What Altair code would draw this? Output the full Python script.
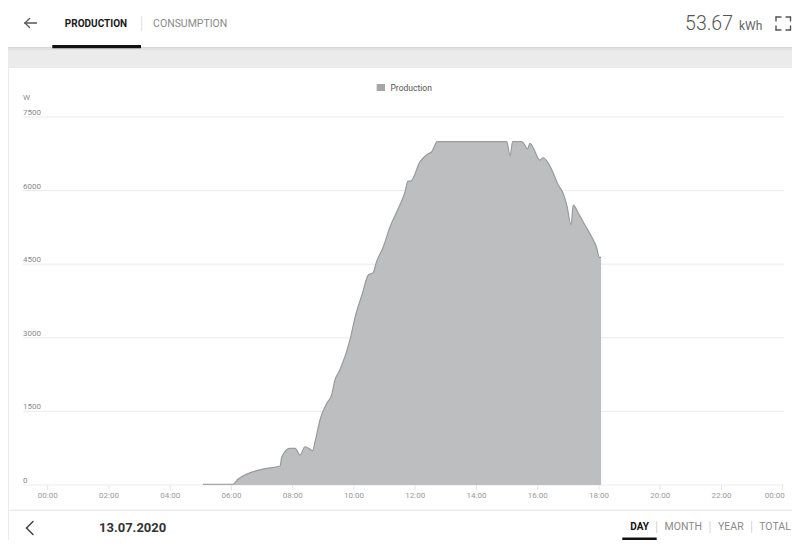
import altair as alt
import pandas as pd

# ---------------- data ----------------
hours = [5.07, 6.05, 6.21, 6.99, 7.59, 7.64, 7.91, 8.08, 8.24, 8.40, 8.51, 8.65, 8.73, 8.89,
         9.11, 9.27, 9.38, 9.54, 9.87, 10.03, 10.26, 10.47, 10.63, 10.72, 10.96, 11.18, 11.45,
         11.67, 11.76, 11.85, 12.16, 12.40, 12.54, 12.72, 13.50, 14.30, 14.99, 15.10, 15.18,
         15.48, 15.58, 15.66, 15.75, 15.86, 16.07, 16.18, 16.35, 16.51, 16.67, 16.78, 16.95,
         17.09, 17.16, 17.33, 17.54, 17.76, 17.93, 18.01, 18.07]
watts = [15, 15, 116, 320, 387, 565, 748, 748, 611, 780, 754, 699, 882, 1325,
         1665, 1834, 2140, 2344, 2955, 3403, 3872, 4279, 4327, 4518, 4856, 5264, 5639,
         5977, 6195, 6195, 6589, 6739, 6792, 7000, 7000, 7000, 7000, 6705, 7000,
         7000, 6929, 6847, 6963, 6862, 6623, 6670, 6556, 6352, 6114, 6012, 5706,
         5298, 5706, 5537, 5298, 5060, 4824, 4640, 4640]

y_ticks = [0, 1500, 3000, 4500, 6000, 7500]
y_tick_labels = ["0", "1500", "3000", "4500", "6000", "7500"]
x_ticks = [0, 2, 4, 6, 8, 10, 12, 14, 16, 18, 20, 22, 24]
x_tick_labels = ["00:00", "02:00", "04:00", "06:00", "08:00", "10:00", "12:00",
                 "14:00", "16:00", "18:00", "20:00", "22:00", "00:00"]
tabs = ["PRODUCTION", "CONSUMPTION"]
periods = ["DAY", "MONTH", "YEAR", "TOTAL"]
total_value = "53.67"
total_unit = "kWh"
date_label = "13.07.2020"
series_name = "Production"
y_unit = "W"

# ---------------- layout helpers ----------------
W, H = 784, 532
OX, OY = 8, 8  # page margin


def px(v):
    return v - OX


def py(v):
    return v - OY


FONT = "Roboto"
xs = alt.Scale(domain=[0, 24], range=[px(47.7), px(782.7)], nice=False, zero=False)
ys = alt.Scale(domain=[0, 7500], range=[py(485), py(117)], nice=False)

one = pd.DataFrame({"d": [0]})


def rect(x1, y1, x2, y2, color):
    return alt.Chart(one).mark_rect(color=color).encode(
        x=alt.value(px(x1)), x2=alt.value(px(x2)),
        y=alt.value(py(y1)), y2=alt.value(py(y2)))


def seg(x1, y1, x2, y2, color, w=1.0):
    return alt.Chart(one).mark_rule(color=color, strokeWidth=w, strokeCap="round").encode(
        x=alt.value(px(x1)), x2=alt.value(px(x2)),
        y=alt.value(py(y1)), y2=alt.value(py(y2)))


def label(text, x, y, size, color, weight="normal", align="left", baseline="middle"):
    return alt.Chart(one).mark_text(
        text=text, font=FONT, fontSize=size, color=color, fontWeight=weight,
        align=align, baseline=baseline).encode(x=alt.value(px(x)), y=alt.value(py(y)))


layers = []

# backgrounds
layers.append(rect(0, 0, 800, 47, "#ffffff"))
layers.append(rect(0, 47, 800, 48, "#d6d7d6"))
layers.append(rect(0, 48, 800, 50, "#e0e1e0"))
layers.append(rect(9, 68, 800, 509.5, "#ffffff"))
layers.append(rect(9, 511, 800, 545, "#ffffff"))

# gridlines
gdf = pd.DataFrame({"v": y_ticks, "lab": y_tick_labels})
layers.append(alt.Chart(gdf).mark_rule(color="#ebebeb", strokeWidth=1).encode(
    y=alt.Y("v:Q", scale=ys, axis=None), x=alt.value(px(23)), x2=alt.value(px(784))))

# series
df = pd.DataFrame({"h": hours, "w": watts})
layers.append(alt.Chart(df).mark_area(interpolate="monotone", color="#bdbebf").encode(
    x=alt.X("h:Q", scale=xs, axis=None),
    y=alt.Y("w:Q", scale=ys, axis=None, stack=None),
    y2=alt.datum(0)))
layers.append(alt.Chart(df).mark_line(interpolate="monotone", color="#9a9a9a", strokeWidth=1.2).encode(
    x=alt.X("h:Q", scale=xs, axis=None),
    y=alt.Y("w:Q", scale=ys, axis=None)))

# y labels
layers.append(alt.Chart(gdf).mark_text(
    align="left", baseline="alphabetic", dy=-2, font=FONT, fontSize=8, color="#8a8a8a").encode(
    y=alt.Y("v:Q", scale=ys, axis=None), x=alt.value(px(23)), text="lab:N"))
layers.append(label(y_unit, 23, 98, 8, "#8a8a8a"))

# x ticks and labels
xdf = pd.DataFrame({"h": x_ticks, "lab": x_tick_labels})
layers.append(alt.Chart(xdf).mark_rule(color="#e6e6e6").encode(
    x=alt.X("h:Q", scale=xs, axis=None), y=alt.value(py(485)), y2=alt.value(py(490))))
layers.append(alt.Chart(xdf).transform_filter("datum.h < 24").mark_text(
    align="center", baseline="middle", font=FONT, fontSize=8, color="#999999").encode(
    x=alt.X("h:Q", scale=xs, axis=None), y=alt.value(py(495.7)), text="lab:N"))
layers.append(alt.Chart(xdf).transform_filter("datum.h >= 24").mark_text(
    align="right", baseline="middle", dx=2, font=FONT, fontSize=8, color="#999999").encode(
    x=alt.X("h:Q", scale=xs, axis=None), y=alt.value(py(495.7)), text="lab:N"))

# legend
layers.append(rect(376.7, 84, 385, 91, "#a6a6a6"))
layers.append(label(series_name, 390.5, 87.5, 8.5, "#555555"))

# header
layers.append(seg(25, 23, 36.5, 23, "#555555", 1.3))
layers.append(seg(25, 23, 29.5, 18.5, "#555555", 1.3))
layers.append(seg(25, 23, 29.5, 27.5, "#555555", 1.3))
layers.append(label(tabs[0], 96, 23.5, 10, "#1a1a1a", "bold", "center"))
layers.append(seg(141.7, 16.7, 141.7, 30.7, "#dddddd", 1))
layers.append(label(tabs[1], 190.2, 23.5, 10.5, "#8a8a8a", "normal", "center"))
layers.append(rect(52.3, 45, 141, 48.3, "#111111"))
layers.append(label(total_value, 733, 30, 19.5, "#555555", 300, "right", "alphabetic"))
layers.append(label(total_unit, 739, 29.5, 12, "#666666", "normal", "left", "alphabetic"))
icon = "#555555"
for a in [
    (776, 17, 781, 17), (776, 17, 776, 21), (776, 26, 776, 30), (776, 30, 781, 30),
    (786, 17, 790.5, 17), (790.5, 17, 790.5, 21), (790.5, 26, 790.5, 30), (786, 30, 790.5, 30),
]:
    layers.append(seg(*a, icon, 1.4))

# footer
layers.append(seg(33, 521.5, 26.5, 528, "#444444", 1.5))
layers.append(seg(26.5, 528, 33, 534.5, "#444444", 1.5))
layers.append(label(date_label, 99, 527.5, 13, "#333333", "bold", "left"))
centers = [639.7, 683.3, 730.8, 775]
for i, p in enumerate(periods):
    if i == 0:
        layers.append(label(p, centers[i], 527, 10, "#111111", "bold", "center"))
    else:
        layers.append(label(p, centers[i], 527, 10.5, "#8a8a8a", "normal", "center"))
for sx in [656.7, 710, 751.7]:
    layers.append(seg(sx, 521.7, sx, 532.7, "#d5d5d5", 1))
layers.append(rect(622.3, 537.5, 656.7, 540, "#111111"))

chart = alt.layer(*layers).properties(
    width=W, height=H, padding=0,
    autosize=alt.AutoSizeParams(type="none"),
    background="#eaebea",
).configure_view(stroke=None)

chart.save("out.html", embed_options={"renderer": "svg", "actions": False})
